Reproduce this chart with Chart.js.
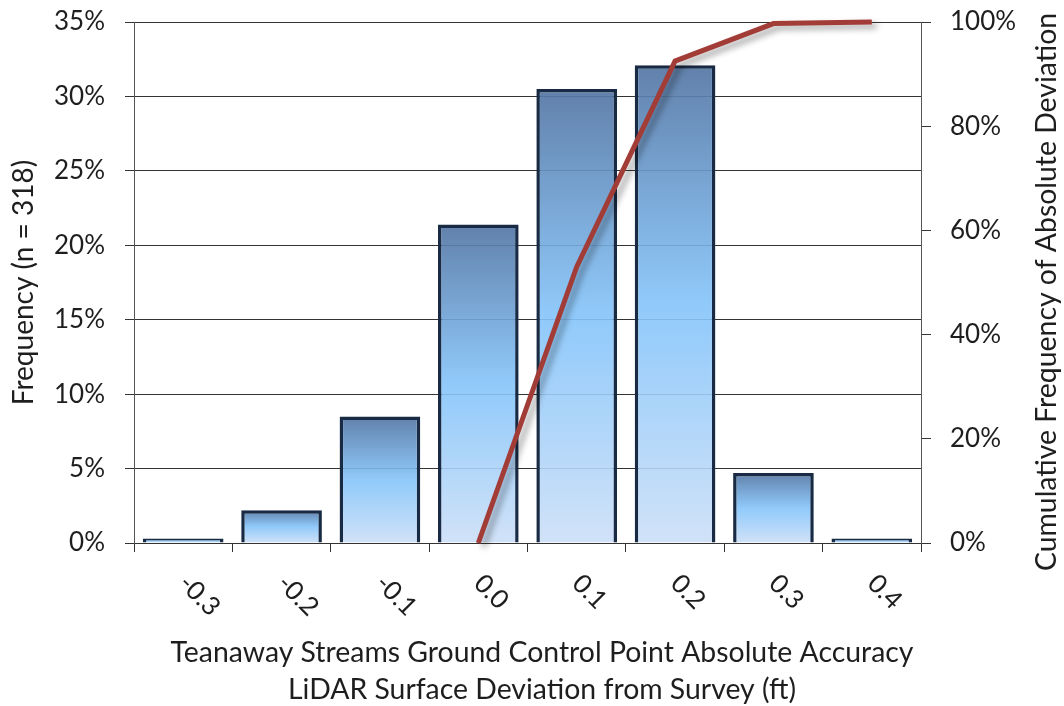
<!DOCTYPE html>
<html>
<head>
<meta charset="utf-8">
<script src="https://cdn.jsdelivr.net/npm/chart.js@4.4.0/dist/chart.umd.min.js"></script>
<style>
html, body { margin: 0; padding: 0; background: #fff; }
#wrap { width: 1064px; height: 706px; }
</style>
</head>
<body>
<div id="wrap"><canvas id="hist"></canvas></div>
<script>
const categories = ['-0.3', '-0.2', '-0.1', '0.0', '0.1', '0.2', '0.3', '0.4'];
const frequency = [0.31, 2.2, 8.5, 21.4, 30.5, 32.1, 4.7, 0.31];
const cumulative = [null, null, null, 0, 53, 92.5, 99.7, 100];
const leftTitle = 'Frequency (n = 318)';
const rightTitle = 'Cumulative Frequency of Absolute Deviation';
const xTitle = ['Teanaway Streams Ground Control Point Absolute Accuracy', 'LiDAR Surface Deviation from Survey (ft)'];

const FONT = 'Lato';
const TEXT = '#1e1e1e';

function barFill(ctx) {
    const chart = ctx.chart;
    const y = chart.scales.y;
    if (!y || ctx.raw == null) return 'rgba(110,160,215,0.9)';
    const top = y.getPixelForValue(ctx.raw);
    const base = y.getPixelForValue(0);
    if (!isFinite(top) || !isFinite(base) || base - top < 2) return 'rgba(90,130,180,0.9)';
    const g = chart.ctx.createLinearGradient(0, top, 0, base);
    g.addColorStop(0, 'rgba(84,118,164,0.92)');
    g.addColorStop(0.5, 'rgba(132,196,250,0.9)');
    g.addColorStop(1, 'rgba(204,223,247,0.9)');
    return g;
}

// drop shadow under the cumulative line
const shadows = {
    id: 'shadows',
    beforeDatasetDraw(chart, args) {
        const c = chart.ctx;
        c.save();
        if (args.meta.type === 'line') {
            c.shadowColor = 'rgba(0,0,0,0.35)';
            c.shadowBlur = 6;
            c.shadowOffsetX = 5;
            c.shadowOffsetY = 4;
        }
    },
    afterDatasetDraw(chart) {
        chart.ctx.restore();
    }
};

// rotated category labels, two-line x title, right title reading upwards
const axisText = {
    id: 'axisText',
    afterDraw(chart) {
        const c = chart.ctx;
        const x = chart.scales.x;
        const area = chart.chartArea;
        c.save();
        c.fillStyle = TEXT;
        c.font = '26px ' + FONT;
        c.textAlign = 'left';
        c.textBaseline = 'middle';
        categories.forEach((lab, i) => {
            c.save();
            c.translate(x.getPixelForValue(i), area.bottom + 36);
            c.rotate(Math.PI / 4);
            c.fillText(lab, 0, 0);
            c.restore();
        });
        c.font = '28.4px ' + FONT;
        c.textAlign = 'center';
        c.textBaseline = 'alphabetic';
        xTitle.forEach((t, i) => c.fillText(t, 542, area.bottom + 119 + i * 37));
        c.translate(area.right + 126, 292);
        c.rotate(-Math.PI / 2);
        c.textBaseline = 'middle';
        c.fillText(rightTitle, 0, 0);
        c.restore();
    }
};

// keep the plot area where the reference has it
function fixPad(s) {
    s.paddingTop = 0;
    s.paddingBottom = 0;
}

new Chart(document.getElementById('hist'), {
    type: 'bar',
    data: {
        labels: categories,
        datasets: [
            {
                type: 'line',
                label: 'Cumulative',
                data: cumulative,
                yAxisID: 'y1',
                borderColor: '#a23c37',
                borderWidth: 5,
                pointRadius: 0,
                tension: 0,
                clip: false,
                order: 0,
            },
            {
                label: 'Frequency',
                data: frequency,
                yAxisID: 'y',
                backgroundColor: barFill,
                borderColor: '#192b44',
                borderWidth: 3.5,
                categoryPercentage: 1,
                barPercentage: 0.82,
                order: 1,
            },
        ],
    },
    options: {
        responsive: true,
        maintainAspectRatio: false,
        animation: false,
        layout: { padding: { top: 22, left: 0, right: 0, bottom: 0 } },
        plugins: {
            legend: { display: false },
            tooltip: { enabled: false },
        },
        scales: {
            x: {
                ticks: { display: false },
                grid: { drawOnChartArea: false, offset: true, tickLength: 9, color: '#333' },
                border: { color: '#333' },
                afterFit: (s) => { s.height = 163; },
            },
            y: {
                position: 'left',
                min: 0,
                max: 35,
                ticks: {
                    stepSize: 5,
                    padding: 20,
                    color: TEXT,
                    font: { family: FONT, size: 26 },
                    callback: (v) => v + '%',
                },
                grid: { color: '#333', tickLength: 9 },
                border: { color: '#555' },
                title: {
                    display: true,
                    text: leftTitle,
                    color: TEXT,
                    font: { family: FONT, size: 28 },
                    padding: { top: 7, bottom: 0 },
                },
                afterFit: (s) => { s.width = 134; fixPad(s); },
            },
            y1: {
                position: 'right',
                min: 0,
                max: 100,
                ticks: {
                    stepSize: 20,
                    padding: 19,
                    color: TEXT,
                    font: { family: FONT, size: 26 },
                    callback: (v) => v + '%',
                },
                grid: { drawOnChartArea: false, color: '#333', tickLength: 10 },
                border: { color: '#555' },
                afterFit: (s) => { s.width = 143; fixPad(s); },
            },
        },
    },
    plugins: [shadows, axisText],
});
</script>
</body>
</html>
